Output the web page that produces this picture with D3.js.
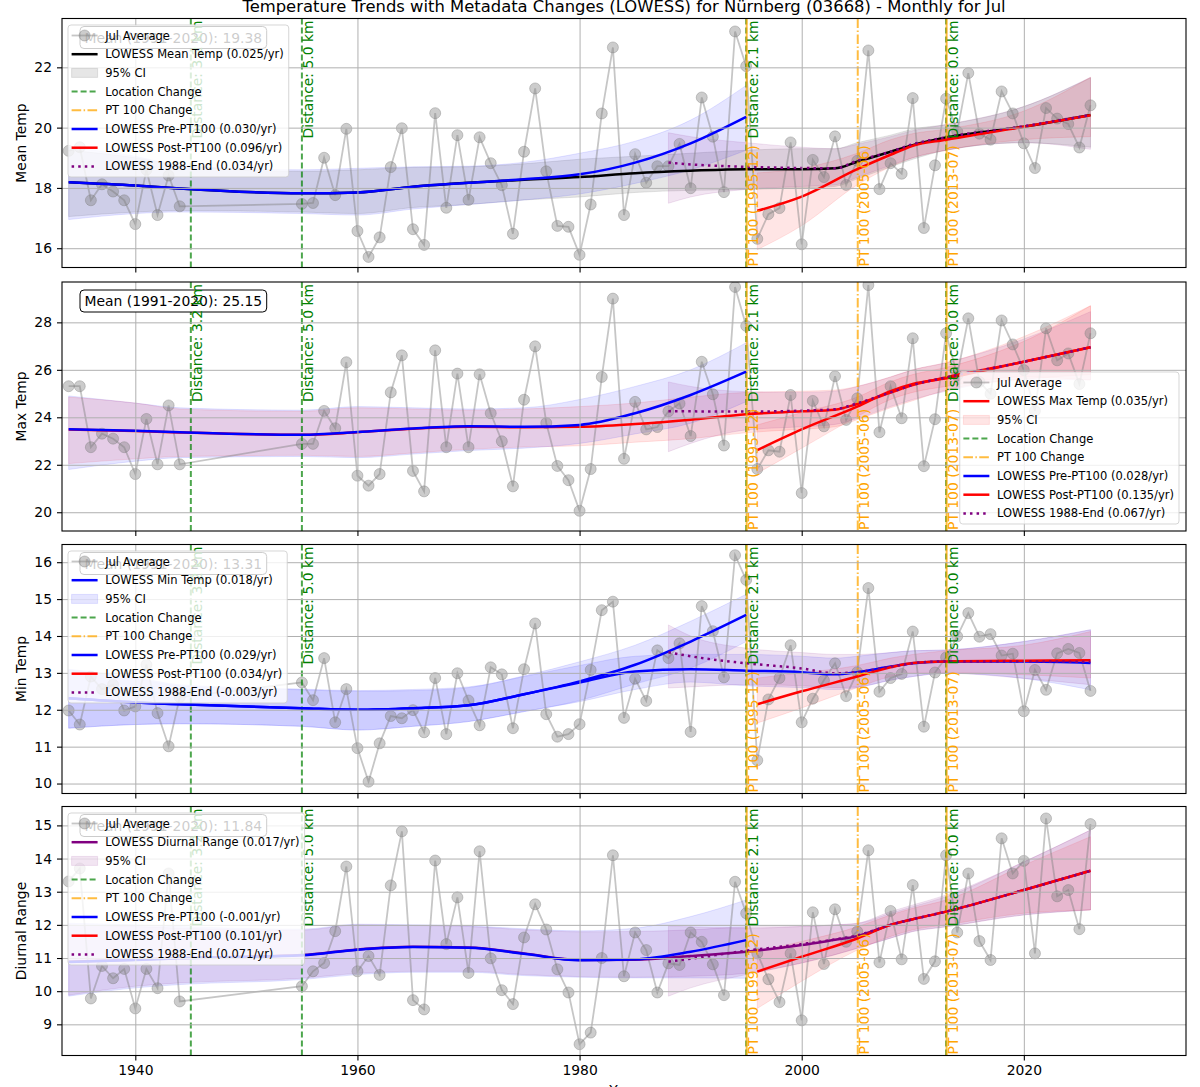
<!DOCTYPE html>
<html>
<head>
<meta charset="utf-8">
<script src="https://cdnjs.cloudflare.com/ajax/libs/d3/7.8.5/d3.min.js"></script>
<style>
  body { margin: 0; background: #fff; }
  svg { display: block; font-family: "DejaVu Sans", sans-serif; }
</style>
</head>
<body>
<div id="chart"></div>
<script>
// yearly July values
const years = [1934,1935,1936,1937,1938,1939,1940,1941,1942,1943,1944,
  1955,1956,1957,1958,1959,1960,1961,1962,1963,1964,1965,1966,1967,1968,1969,
  1970,1971,1972,1973,1974,1975,1976,1977,1978,1979,1980,1981,1982,1983,1984,
  1985,1986,1987,1988,1989,1990,1991,1992,1993,1994,1995,1996,1997,1998,1999,
  2000,2001,2002,2003,2004,2005,2006,2007,2008,2009,2010,2011,2012,2013,2014,
  2015,2016,2017,2018,2019,2020,2021,2022,2023,2024,2025,2026];

const meanTemp = [19.23,19.35,17.59,18.12,17.88,17.59,16.8,18.6,17.1,18.41,17.39,
  17.47,17.5,19.0,17.76,19.96,16.57,15.71,16.36,18.69,19.98,16.63,16.11,20.48,17.34,19.75,
  17.6,19.68,18.82,18.09,16.48,19.2,21.3,18.55,16.74,16.71,15.78,17.45,20.47,22.66,17.1,
  19.12,18.17,18.72,18.72,19.46,17.99,21.0,19.7,17.86,23.19,22.04,16.31,17.13,17.33,19.51,
  16.13,18.93,18.36,19.71,18.1,18.9,22.56,17.96,18.82,18.47,20.98,16.67,18.75,20.96,19.87,
  21.81,19.8,19.6,21.2,20.47,19.48,18.66,20.65,20.3,20.12,19.34,20.74];

const maxTemp = [25.31,25.31,22.74,23.31,23.1,22.74,21.61,23.93,22.02,24.5,22.02,
  22.88,22.88,24.27,23.54,26.32,21.54,21.12,21.61,25.05,26.61,21.74,20.88,26.82,22.74,25.84,
  22.74,25.81,24.17,22.99,21.09,24.74,26.99,23.76,21.95,21.35,20.06,21.82,25.7,29.0,22.25,
  24.65,23.49,23.59,24.25,24.58,23.21,26.34,24.97,22.81,29.49,27.85,21.82,22.61,22.55,24.94,
  20.81,24.69,23.62,25.73,23.89,24.8,29.57,23.37,25.31,23.96,27.33,21.94,23.92,27.54,25.76,
  28.17,25.49,24.99,28.08,27.07,25.99,24.27,27.75,26.4,26.69,25.4,27.54];

const minTemp = [11.98,11.6,12.9,12.56,12.68,11.98,12.09,13.22,11.91,11.01,12.34,
  12.74,12.26,13.4,11.66,12.56,10.96,10.05,11.09,11.83,11.77,11.99,11.39,12.86,11.34,12.99,
  12.25,11.58,13.15,12.96,11.5,13.1,14.34,11.88,11.27,11.34,11.61,13.08,14.7,14.93,11.78,
  12.84,12.24,13.61,13.4,13.8,11.4,14.81,14.13,12.88,16.19,15.52,10.63,12.28,12.86,13.75,
  11.66,12.3,12.8,13.26,12.37,13.02,15.3,12.49,12.86,12.97,14.12,11.54,13.01,13.42,13.99,
  14.62,13.98,14.05,13.47,13.52,11.96,13.08,12.54,13.53,13.65,13.54,12.51];

const diurnalRange = [13.31,13.7,9.78,10.76,10.39,10.67,9.48,10.67,10.09,13.55,9.69,
  10.15,10.6,10.85,11.81,13.76,10.6,11.06,10.49,13.19,14.82,9.73,9.45,13.94,11.42,12.83,
  10.55,14.22,10.99,10.03,9.61,11.62,12.62,11.86,10.66,9.96,8.4,8.75,11.0,14.1,10.45,
  11.77,11.24,9.96,10.84,10.79,11.77,11.49,10.81,9.88,13.3,12.35,11.14,10.36,9.67,11.14,
  9.12,12.38,10.82,12.47,11.49,11.8,14.25,10.87,12.42,10.96,13.2,10.37,10.9,14.1,11.77,
  13.55,11.51,10.94,14.61,13.55,13.93,11.14,15.21,12.86,13.05,11.87,15.04];

// LOWESS curves at these years
const fitYears = [1934,1940,1944,1955,1960,1965,1970,1975,1980,1985,1990,1995,2000,2003,2005,2008,2010,2013,2020,2026];
const preYears = [1934,1940,1944,1955,1960,1965,1970,1975,1980,1985,1990,1995];
const postYears = [1996,2000,2005,2008,2010,2013,2020,2026];
const lateYears = [1988,1990,1995,2000,2003,2005,2008,2010,2013,2020,2026];

const meanFit = [18.19,18.08,17.98,17.82,17.85,18.04,18.17,18.27,18.36,18.49,18.57,18.62,18.62,18.65,18.87,19.2,19.42,19.67,20.03,20.42];
const meanFitLo = [17.05,17.2,17.25,17.2,17.15,17.35,17.45,17.6,17.7,17.85,17.92,17.95,18.0,18.05,18.3,18.7,18.95,19.25,19.5,19.35];
const meanFitHi = [19.25,19.0,18.75,18.55,18.6,18.68,18.7,18.8,18.95,19.05,19.15,19.25,19.3,19.3,19.5,19.75,19.95,20.1,20.7,21.65];
const meanPre = [18.19,18.08,17.98,17.82,17.85,18.04,18.17,18.29,18.45,18.84,19.48,20.36];
const meanPreLo = [16.95,17.15,17.2,17.15,17.1,17.3,17.45,17.6,17.8,18.15,18.6,19.25];
const meanPreHi = [19.35,19.05,18.75,18.6,18.65,18.7,18.72,18.85,19.15,19.55,20.25,21.4];
const meanPost = [17.24,17.71,18.62,19.1,19.4,19.6,20.03,20.41];
const meanPostLo = [15.95,16.75,18.1,18.7,19.0,19.25,19.6,19.7];
const meanPostHi = [18.5,18.65,19.15,19.6,19.8,19.95,20.55,21.67];
const meanLate = [18.84,18.78,18.7,18.66,18.65,18.9,19.2,19.45,19.68,20.05,20.42];
const meanLateLo = [17.49,17.7,17.95,18.05,18.1,18.35,18.75,19.0,19.25,19.5,19.28];
const meanLateHi = [19.83,19.7,19.5,19.35,19.3,19.45,19.7,19.9,20.1,20.7,21.67];

const maxFit = [23.49,23.42,23.36,23.26,23.37,23.52,23.6,23.58,23.6,23.72,23.9,24.13,24.25,24.32,24.56,25.04,25.36,25.68,26.34,26.95];
const maxFitLo = [22.05,22.25,22.35,22.4,22.35,22.5,22.65,22.75,22.8,22.95,23.1,23.35,23.5,23.6,23.9,24.4,24.7,25.15,25.6,25.8];
const maxFitHi = [24.85,24.6,24.35,24.25,24.4,24.35,24.3,24.35,24.45,24.6,24.85,25.05,25.1,25.15,25.3,25.7,26.0,26.3,27.4,28.7];
const maxPre = [23.5,23.43,23.37,23.26,23.38,23.53,23.62,23.6,23.68,24.17,24.94,25.92];
const maxPreLo = [21.8,22.15,22.3,22.35,22.3,22.45,22.6,22.7,22.9,23.3,23.75,24.66];
const maxPreHi = [24.9,24.6,24.4,24.3,24.45,24.4,24.35,24.4,24.75,25.3,26.0,27.14];
const maxPost = [22.62,23.49,24.45,25.1,25.4,25.64,26.34,26.95];
const maxPostLo = [21.64,22.7,24.03,24.75,25.05,25.3,25.7,25.57];
const maxPostHi = [23.68,24.2,24.85,25.5,25.8,26.1,27.2,28.7];
const maxLate = [24.25,24.25,24.24,24.28,24.34,24.59,25.05,25.36,25.68,26.34,26.95];
const maxLateLo = [22.55,22.9,23.47,23.6,23.7,23.95,24.45,24.75,25.1,25.6,25.57];
const maxLateHi = [25.49,25.3,25.08,25.05,25.1,25.3,25.7,26.0,26.3,27.3,28.45];

const minFit = [12.31,12.2,12.15,12.04,12.0,12.04,12.12,12.42,12.74,13.04,13.1,13.06,13.02,12.96,13.02,13.17,13.26,13.31,13.31,13.27];
const minFitLo = [11.5,11.6,11.62,11.55,11.45,11.55,11.68,11.95,12.22,12.55,12.75,12.65,12.6,12.55,12.6,12.8,12.9,12.99,12.85,12.54];
const minFitHi = [13.08,12.85,12.65,12.54,12.5,12.52,12.6,12.9,13.2,13.45,13.5,13.5,13.45,13.4,13.45,13.55,13.6,13.62,13.85,14.17];
const minPre = [12.31,12.2,12.15,12.04,12.0,12.04,12.12,12.42,12.77,13.22,13.85,14.57];
const minPreLo = [11.5,11.6,11.62,11.55,11.45,11.55,11.68,11.95,12.25,12.7,13.13,13.85];
const minPreHi = [13.1,12.88,12.68,12.56,12.52,12.55,12.62,12.92,13.3,13.75,14.4,15.13];
const minPost = [12.15,12.5,12.9,13.15,13.27,13.31,13.33,13.34];
const minPostLo = [11.64,12.05,12.6,12.9,13.0,13.0,12.95,12.86];
const minPostHi = [12.86,13.0,13.2,13.4,13.5,13.6,13.75,14.12];
const minLate = [13.56,13.45,13.26,13.12,12.99,13.02,13.17,13.26,13.31,13.31,13.3];
const minLateLo = [12.59,12.62,12.68,12.65,12.6,12.62,12.8,12.9,12.99,12.85,12.68];
const minLateHi = [14.3,14.0,13.67,13.55,13.5,13.5,13.55,13.6,13.62,13.85,14.17];

const drFit = [10.89,10.95,11.0,11.09,11.26,11.34,11.32,11.14,10.94,10.95,11.06,11.19,11.39,11.55,11.66,12.0,12.17,12.4,13.05,13.63];
const drFitLo = [9.88,10.15,10.25,10.39,10.54,10.6,10.6,10.5,10.44,10.42,10.45,10.54,10.85,11.1,11.29,11.6,11.8,11.94,12.3,12.45];
const drFitHi = [12.0,11.95,11.9,11.84,12.0,11.98,11.95,11.85,11.79,11.8,11.85,11.94,11.95,12.0,12.04,12.35,12.55,12.85,13.9,14.86];
const drPre = [10.88,10.94,10.99,11.08,11.25,11.33,11.31,11.13,10.93,10.96,11.19,11.54];
const drPreLo = [9.85,10.1,10.2,10.35,10.5,10.57,10.57,10.47,10.42,10.4,10.4,10.39];
const drPreHi = [12.05,12.0,11.95,11.87,12.02,12.0,11.97,11.88,11.82,11.9,12.25,12.75];
const drPost = [10.59,11.04,11.59,12.0,12.17,12.4,13.05,13.63];
const drPostLo = [9.48,10.3,11.24,11.65,11.85,12.0,12.35,12.45];
const drPostHi = [11.19,11.5,11.94,12.3,12.5,12.75,13.8,14.66];
const drLate = [10.89,10.98,11.22,11.42,11.56,11.68,12.0,12.17,12.4,13.05,13.63];
const drLateLo = [9.85,10.1,10.5,10.85,11.1,11.3,11.6,11.8,11.94,12.3,12.45];
const drLateHi = [11.96,11.94,11.9,11.95,12.0,12.05,12.4,12.6,12.9,13.9,14.86];

// metadata events
const locationYears = [1945, 1955, 1995, 2013];
const locationLabels = ['Distance: 3.2 km', 'Distance: 5.0 km', 'Distance: 2.1 km', 'Distance: 0.0 km'];
const pt100Years = [1995, 2005, 2013];
const pt100Labels = ['PT 100 (1995-12)', 'PT 100 (2005-06)', 'PT 100 (2013-07)'];

// ticks
const xTicks = [1940, 1960, 1980, 2000, 2020];
const meanTicks = [16, 18, 20, 22];
const maxTicks = [20, 22, 24, 26, 28];
const minTicks = [10, 11, 12, 13, 14, 15, 16];
const drTicks = [9, 10, 11, 12, 13, 14, 15];

const meanLegend = ['Jul Average', 'LOWESS Mean Temp (0.025/yr)', '95% CI', 'Location Change', 'PT 100 Change',
  'LOWESS Pre-PT100 (0.030/yr)', 'LOWESS Post-PT100 (0.096/yr)', 'LOWESS 1988-End (0.034/yr)'];
const maxLegend = ['Jul Average', 'LOWESS Max Temp (0.035/yr)', '95% CI', 'Location Change', 'PT 100 Change',
  'LOWESS Pre-PT100 (0.028/yr)', 'LOWESS Post-PT100 (0.135/yr)', 'LOWESS 1988-End (0.067/yr)'];
const minLegend = ['Jul Average', 'LOWESS Min Temp (0.018/yr)', '95% CI', 'Location Change', 'PT 100 Change',
  'LOWESS Pre-PT100 (0.029/yr)', 'LOWESS Post-PT100 (0.034/yr)', 'LOWESS 1988-End (-0.003/yr)'];
const drLegend = ['Jul Average', 'LOWESS Diurnal Range (0.017/yr)', '95% CI', 'Location Change', 'PT 100 Change',
  'LOWESS Pre-PT100 (-0.001/yr)', 'LOWESS Post-PT100 (0.101/yr)', 'LOWESS 1988-End (0.071/yr)'];

const normalTexts = ['Mean (1991-2020): 19.38', 'Mean (1991-2020): 25.15', 'Mean (1991-2020): 13.31', 'Mean (1991-2020): 11.84'];

// layout
const W = 1200, H = 1087;
const plotLeft = 62, plotRight = 1186;
const panelTops = [18.5, 282, 544.5, 806.5];
const panelH = 249;
const locDash = '6,3', ptDash = '9.6,2.4,1.5,2.4';

const panels = [
  {label: 'Mean Temp', values: meanTemp, domain: [15.36, 23.62], ticks: meanTicks, color: 'black', band: 'gray', bandOp: 0.2,
   fit: [meanFit, meanFitLo, meanFitHi], pre: [meanPre, meanPreLo, meanPreHi], post: [meanPost, meanPostLo, meanPostHi],
   late: [meanLate, meanLateLo, meanLateHi], legend: meanLegend, where: 'ul'},
  {label: 'Max Temp', values: maxTemp, domain: [19.21, 29.70], ticks: maxTicks, color: 'red', band: 'red', bandOp: 0.1,
   fit: [maxFit, maxFitLo, maxFitHi], pre: [maxPre, maxPreLo, maxPreHi], post: [maxPost, maxPostLo, maxPostHi],
   late: [maxLate, maxLateLo, maxLateHi], legend: maxLegend, where: 'lr'},
  {label: 'Min Temp', values: minTemp, domain: [9.73, 16.48], ticks: minTicks, color: 'blue', band: 'blue', bandOp: 0.1,
   fit: [minFit, minFitLo, minFitHi], pre: [minPre, minPreLo, minPreHi], post: [minPost, minPostLo, minPostHi],
   late: [minLate, minLateLo, minLateHi], legend: minLegend, where: 'ul'},
  {label: 'Diurnal Range', values: diurnalRange, domain: [8.06, 15.57], ticks: drTicks, color: 'purple', band: 'purple', bandOp: 0.1,
   fit: [drFit, drFitLo, drFitHi], pre: [drPre, drPreLo, drPreHi], post: [drPost, drPostLo, drPostHi],
   late: [drLate, drLateLo, drLateHi], legend: drLegend, where: 'ul'}
];

const svg = d3.select('#chart').append('svg')
  .attr('width', W)
  .attr('height', H);

const x = d3.scaleLinear().domain([1933.4, 2034.6]).range([plotLeft, plotRight]);

// title and x label
svg.append('text')
  .attr('x', (plotLeft + plotRight) / 2).attr('y', 12)
  .attr('text-anchor', 'middle').style('font-size', '16.4px')
  .text('Temperature Trends with Metadata Changes (LOWESS) for Nürnberg (03668) - Monthly for Jul');
svg.append('text')
  .attr('x', (plotLeft + plotRight) / 2).attr('y', 1095)
  .attr('text-anchor', 'middle').style('font-size', '13.9px')
  .text('Year');

const seriesLine = y => d3.line().x(d => x(d[0])).y(d => y(d[1])).curve(d3.curveMonotoneX);
const seriesArea = y => d3.area().x(d => x(d[0])).y0(d => y(d[1])).y1(d => y(d[2])).curve(d3.curveMonotoneX);

function drawBand(g, y, yrs, lo, hi, color, op) {
  g.append('path')
    .datum(yrs.map((yr, i) => [yr, lo[i], hi[i]]))
    .attr('d', seriesArea(y))
    .attr('fill', color).attr('fill-opacity', op)
    .attr('stroke', color).attr('stroke-opacity', op).attr('stroke-width', 1);
}

function drawFit(g, y, yrs, vals, color, dash) {
  g.append('path')
    .datum(yrs.map((yr, i) => [yr, vals[i]]))
    .attr('d', seriesLine(y))
    .attr('fill', 'none').attr('stroke', color).attr('stroke-width', 2.5)
    .attr('stroke-dasharray', dash || null);
}

function drawHandle(g, kind, p, x0, x1, cy) {
  const line = (color, dash, op, w) => g.append('line')
    .attr('x1', x0).attr('x2', x1).attr('y1', cy).attr('y2', cy)
    .attr('stroke', color).attr('stroke-width', w || 2.5)
    .attr('stroke-opacity', op || 1)
    .attr('stroke-dasharray', dash);
  if (kind === 'data') {
    line('gray', null, 0.45, 1.8);
    g.append('circle').attr('cx', (x0 + x1) / 2).attr('cy', cy).attr('r', 5.5)
      .attr('fill', 'gray').attr('fill-opacity', 0.4).attr('stroke', 'gray').attr('stroke-opacity', 0.4);
  } else if (kind === 'fit') line(p.color);
  else if (kind === 'band') {
    g.append('rect').attr('x', x0).attr('y', cy - 4.5).attr('width', x1 - x0).attr('height', 9)
      .attr('fill', p.band).attr('fill-opacity', p.bandOp).attr('stroke', p.band).attr('stroke-opacity', p.bandOp);
  }
  else if (kind === 'loc') line('green', locDash, 0.7, 2);
  else if (kind === 'pt') line('orange', ptDash, 0.75, 2);
  else if (kind === 'pre') line('blue');
  else if (kind === 'post') line('red');
  else if (kind === 'late') line('purple', '2.5,4.1');
}

const legendKinds = ['data', 'fit', 'band', 'loc', 'pt', 'pre', 'post', 'late'];

panels.forEach((p, i) => {
  const top = panelTops[i], bottom = top + panelH;
  const y = d3.scaleLinear().domain(p.domain).range([bottom, top]);
  const g = svg.append('g');
  const clipId = 'clip' + i;
  svg.append('clipPath').attr('id', clipId).append('rect')
    .attr('x', plotLeft).attr('y', top).attr('width', plotRight - plotLeft).attr('height', panelH);
  const plot = g.append('g').attr('clip-path', `url(#${clipId})`);

  // confidence bands (below everything)
  drawBand(plot, y, fitYears, p.fit[1], p.fit[2], p.band, p.bandOp);
  drawBand(plot, y, preYears, p.pre[1], p.pre[2], 'blue', 0.1);
  drawBand(plot, y, postYears, p.post[1], p.post[2], 'red', 0.1);
  drawBand(plot, y, lateYears, p.late[1], p.late[2], 'purple', 0.1);

  // grid
  g.append('g')
    .attr('transform', `translate(0,${bottom})`)
    .call(d3.axisBottom(x).tickValues(xTicks).tickSize(-panelH).tickFormat(''))
    .call(s => { s.select('.domain').remove(); s.selectAll('line').attr('stroke', '#b0b0b0').attr('stroke-width', 1); });
  g.append('g')
    .attr('transform', `translate(${plotLeft},0)`)
    .call(d3.axisLeft(y).tickValues(p.ticks).tickSize(-(plotRight - plotLeft)).tickFormat(''))
    .call(s => { s.select('.domain').remove(); s.selectAll('line').attr('stroke', '#b0b0b0').attr('stroke-width', 1); });

  // observed values
  const pts = years.map((yr, j) => [yr, p.values[j]]);
  plot.append('path').datum(pts)
    .attr('d', d3.line().x(d => x(d[0])).y(d => y(d[1])))
    .attr('fill', 'none').attr('stroke', 'gray').attr('stroke-opacity', 0.45).attr('stroke-width', 1.8);
  plot.append('g').selectAll('circle').data(pts).join('circle')
    .attr('cx', d => x(d[0])).attr('cy', d => y(d[1])).attr('r', 5.5)
    .attr('fill', 'gray').attr('fill-opacity', 0.4)
    .attr('stroke', 'gray').attr('stroke-opacity', 0.4).attr('stroke-width', 1);

  drawFit(plot, y, fitYears, p.fit[0], p.color);

  // metadata lines
  plot.selectAll('.loc').data(locationYears).join('line').attr('class', 'loc')
    .attr('x1', d => x(d)).attr('x2', d => x(d)).attr('y1', top).attr('y2', bottom)
    .attr('stroke', 'green').attr('stroke-opacity', 0.7).attr('stroke-width', 2).attr('stroke-dasharray', locDash);
  plot.selectAll('.pt').data(pt100Years).join('line').attr('class', 'pt')
    .attr('x1', d => x(d) + 0.5).attr('x2', d => x(d) + 0.5).attr('y1', top).attr('y2', bottom)
    .attr('stroke', 'orange').attr('stroke-opacity', 0.75).attr('stroke-width', 2)
    .attr('stroke-dasharray', d => locationYears.includes(d) ? null : ptDash);

  drawFit(plot, y, preYears, p.pre[0], 'blue');
  drawFit(plot, y, postYears, p.post[0], 'red');
  drawFit(plot, y, lateYears, p.late[0], 'purple', '2.5,4.1');

  // axes
  g.append('g')
    .attr('transform', `translate(0,${bottom})`)
    .call(d3.axisBottom(x).tickValues(xTicks).tickSize(5).tickPadding(5).tickFormat(i === 3 ? d3.format('d') : ''))
    .call(s => {
      s.select('.domain').remove();
      s.selectAll('line').attr('stroke-width', 1.1);
      s.selectAll('text').style('font-size', '13.9px').style('font-family', '"DejaVu Sans", sans-serif');
    });
  g.append('g')
    .attr('transform', `translate(${plotLeft},0)`)
    .call(d3.axisLeft(y).tickValues(p.ticks).tickSize(5).tickPadding(5).tickFormat(d3.format('d')))
    .call(s => {
      s.select('.domain').remove();
      s.selectAll('line').attr('stroke-width', 1.1);
      s.selectAll('text').style('font-size', '13.9px').style('font-family', '"DejaVu Sans", sans-serif');
    });
  g.append('rect')
    .attr('x', plotLeft).attr('y', top).attr('width', plotRight - plotLeft).attr('height', panelH)
    .attr('fill', 'none').attr('stroke', 'black').attr('stroke-width', 1.1);

  g.append('text')
    .attr('transform', `translate(26,${top + panelH / 2}) rotate(-90)`)
    .attr('text-anchor', 'middle').style('font-size', '13.9px')
    .text(p.label);

  // 1991-2020 normal box
  const nb = g.append('g');
  const nbRect = nb.append('rect').attr('y', top + 8).attr('height', 22).attr('rx', 4)
    .attr('fill', 'white').attr('stroke', 'black').attr('stroke-width', 1);
  const nbText = nb.append('text').attr('x', 84.5).attr('y', top + 24).style('font-size', '13.9px').text(normalTexts[i]);
  const nbLen = nbText.node().getComputedTextLength();
  nbRect.attr('x', 80).attr('width', nbLen + 9);

  // metadata labels
  g.selectAll('.loclab').data(locationYears).join('text').attr('class', 'loclab')
    .attr('transform', d => `translate(${x(d) + 11.5},${top + 2}) rotate(-90)`)
    .attr('text-anchor', 'end').attr('fill', 'green').style('font-size', '13.9px')
    .text((d, k) => locationLabels[k]);
  g.selectAll('.ptlab').data(pt100Years).join('text').attr('class', 'ptlab')
    .attr('transform', d => `translate(${x(d) + 11.5},${bottom - 1}) rotate(-90)`)
    .attr('text-anchor', 'start').attr('fill', 'orange').style('font-size', '13.9px')
    .text((d, k) => pt100Labels[k]);

  // legend
  const lg = g.append('g');
  const frame = lg.append('rect').attr('rx', 3)
    .attr('fill', 'white').attr('fill-opacity', 0.8)
    .attr('stroke', '#cccccc').attr('stroke-opacity', 0.8).attr('stroke-width', 1);
  let maxLen = 0;
  p.legend.forEach((lab, k) => {
    const cy = 10.5 + k * 18.7;
    drawHandle(lg, legendKinds[k], p, 3.6, 29.6, cy);
    const t = lg.append('text').attr('x', 37.2).attr('y', cy + 4).style('font-size', '11.5px').text(lab);
    maxLen = Math.max(maxLen, t.node().getComputedTextLength());
  });
  const lw = 37.2 + maxLen + 5, lh = 152;
  frame.attr('width', lw).attr('height', lh);
  if (p.where === 'ul') lg.attr('transform', `translate(68,${top + 6.5})`);
  else lg.attr('transform', `translate(${plotRight - 7 - lw},${bottom - 7 - lh})`);
});
</script>
</body>
</html>
